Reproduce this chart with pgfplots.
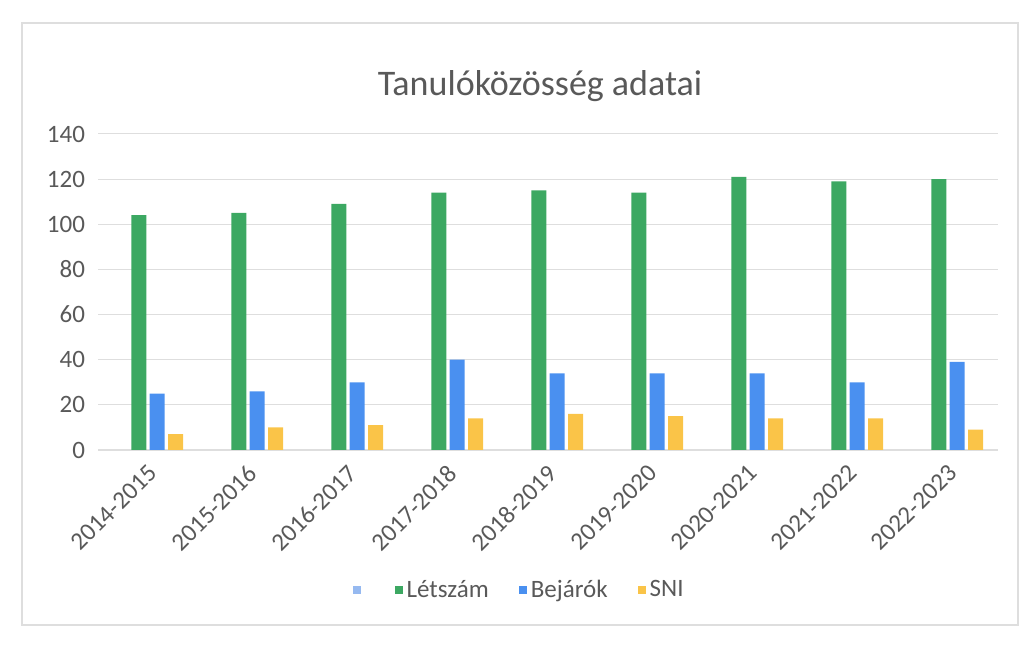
\documentclass[border=0pt]{standalone}
\usepackage{fontspec}
\setmainfont{Carlito}
\usepackage{pgfplots}
\pgfplotsset{compat=1.18}
\definecolor{cgreen}{RGB}{60,168,98}
\definecolor{cblue}{RGB}{74,144,240}
\definecolor{cyellow}{RGB}{250,196,72}
\definecolor{clight}{RGB}{150,185,240}
\definecolor{ctext}{RGB}{89,89,89}
\definecolor{cgrid}{RGB}{222,222,222}
\begin{document}
\begin{tikzpicture}[x=1pt,y=1pt]
\useasboundingbox (0,0) rectangle (513.5,328.5);
\draw[cgrid, line width=0.6pt] (11,16) rectangle (509,317);
\node[text=ctext, font=\fontsize{18}{21}\selectfont] at (270,285.5) {Tanulóközösség adatai};
\begin{axis}[
  at={(49pt,103.5pt)}, anchor=south west,
  scale only axis, width=450pt, height=158pt,
  xmin=-0.5, xmax=8.5, ymin=0, ymax=140,
  ytick={0,20,...,140},
  xtick={0,...,8},
  xticklabels={2014-2015,2015-2016,2016-2017,2017-2018,2018-2019,2019-2020,2020-2021,2021-2022,2022-2023},
  x tick label style={rotate=45, anchor=north east, font=\fontsize{12.5}{15}\selectfont, text=ctext, inner sep=1pt, xshift=-1pt},
  y tick label style={font=\fontsize{12.5}{15}\selectfont, text=ctext, xshift=-3pt},
  /pgf/number format/assume math mode=true,
  ymajorgrids, grid style={cgrid, line width=0.5pt},
  axis lines*=left,
  y axis line style={draw=none},
  x axis line style={cgrid, line width=0.6pt},
  tick style={draw=none},
  ybar, bar width=7.5pt,
  legend style={at={(0.469,-0.443)}, anchor=center, legend columns=-1, draw=none, fill=none,
    font=\fontsize{12.5}{15}\selectfont, text=ctext,
    /tikz/every even column/.append style={column sep=13pt}},
  legend image code/.code={\fill[#1, draw=none] (0pt,-2pt) rectangle (4pt,2pt);},
]
\addlegendimage{fill=clight, draw=none}
\addlegendentry{}
\addplot[fill=cgreen, draw=none, bar shift=-4.6pt] coordinates {
(0,104) (1,105) (2,109) (3,114) (4,115) (5,114) (6,121) (7,119) (8,120)};
\addlegendentry{Létszám}
\addplot[fill=cblue, draw=none, bar shift=4.6pt] coordinates {
(0,25) (1,26) (2,30) (3,40) (4,34) (5,34) (6,34) (7,30) (8,39)};
\addlegendentry{Bejárók}
\addplot[fill=cyellow, draw=none, bar shift=13.8pt] coordinates {
(0,7) (1,10) (2,11) (3,14) (4,16) (5,15) (6,14) (7,14) (8,9)};
\addlegendentry{SNI}
\end{axis}
\end{tikzpicture}
\end{document}
